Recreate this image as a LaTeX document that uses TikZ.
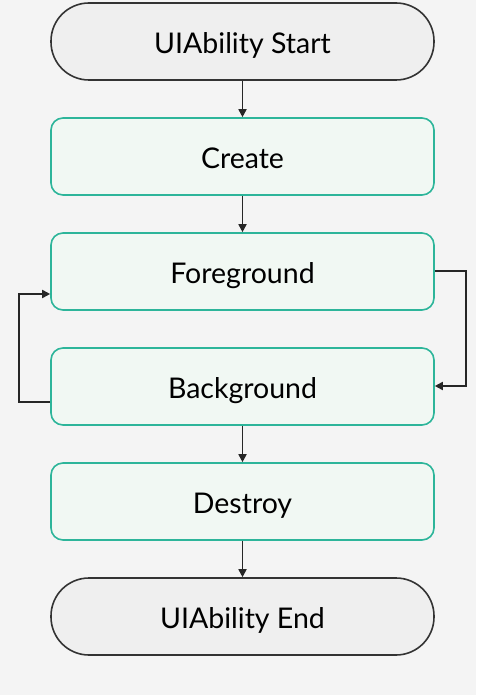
\documentclass[tikz,border=0pt]{standalone}
\usepackage{fontspec}
\setmainfont{Lato}
\usetikzlibrary{arrows.meta}
\definecolor{bgc}{HTML}{F4F4F4}
\definecolor{termfill}{HTML}{EFEFEF}
\definecolor{termdraw}{HTML}{333333}
\definecolor{stfill}{HTML}{F1F8F3}
\definecolor{stdraw}{HTML}{2DB59A}
\begin{document}
\begin{tikzpicture}[x=1pt,y=-1pt,
  box/.style={minimum width=383pt,minimum height=77pt,inner sep=0pt,line width=1.6pt,
    font=\fontsize{28.5}{32}\selectfont,text height=24pt,text depth=0.5pt},
  term/.style={box,draw=termdraw,fill=termfill,rounded corners=38pt},
  state/.style={box,draw=stdraw,fill=stfill,rounded corners=12pt},
  conn/.style={draw=black!85,line width=1.7pt,-{Triangle[length=8pt,width=8pt]}}]
\fill[bgc] (0,0) rectangle (476,695);
\useasboundingbox (0,0) rectangle (476,695);
\node[term]  (start) at (242.5,41.5) {UIAbility Start};
\node[state] (create) at (242.5,156.5) {Create};
\node[state] (fg) at (242.5,271.5) {Foreground};
\node[state] (bg) at (242.5,386.5) {Background};
\node[state] (destroy) at (242.5,501.5) {Destroy};
\node[term]  (end) at (242.5,616.5) {UIAbility End};
\draw[conn] (start) -- (create);
\draw[conn] (create) -- (fg);
\draw[conn] (bg) -- (destroy);
\draw[conn] (destroy) -- (end);
\draw[conn] (fg.east |- 0,271) -- (466,271) -- (466,386) -- (bg.east |- 0,386);
\draw[conn] (bg.west |- 0,402) -- (19,402) -- (19,294) -- (fg.west |- 0,294);
\end{tikzpicture}
\end{document}
